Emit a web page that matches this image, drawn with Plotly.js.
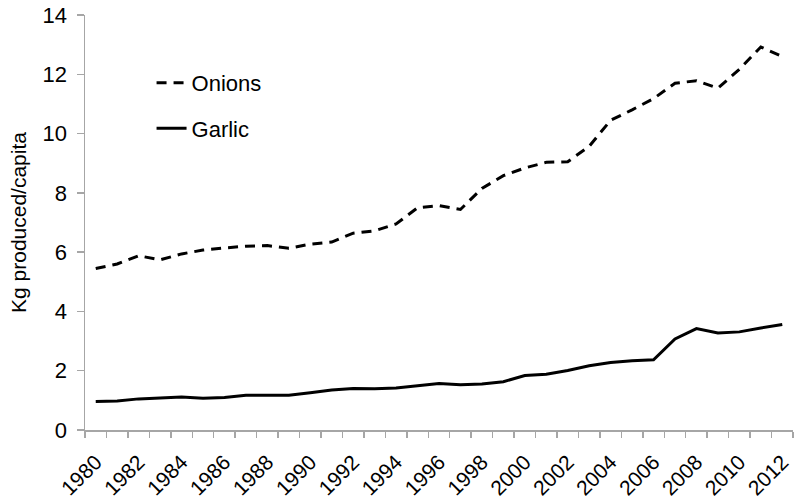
<!DOCTYPE html>
<html>
<head>
<meta charset="utf-8">
<script src="https://cdn.plot.ly/plotly-3.0.1.min.js"></script>
<style>html,body{margin:0;padding:0;background:#fff;}#chart{width:800px;height:499px;}</style>
</head>
<body>
<div id="chart"></div>
<script>
const years = [1980,1981,1982,1983,1984,1985,1986,1987,1988,1989,1990,1991,1992,1993,1994,1995,1996,1997,1998,1999,2000,2001,2002,2003,2004,2005,2006,2007,2008,2009,2010,2011,2012];
const onions = [5.45,5.60,5.88,5.74,5.94,6.07,6.14,6.20,6.22,6.13,6.27,6.34,6.64,6.72,6.95,7.50,7.57,7.44,8.15,8.58,8.84,9.03,9.05,9.57,10.45,10.80,11.18,11.70,11.78,11.53,12.17,12.92,12.60];
const garlic = [0.96,0.98,1.05,1.09,1.11,1.07,1.10,1.17,1.16,1.17,1.26,1.35,1.40,1.39,1.42,1.50,1.57,1.53,1.55,1.63,1.84,1.88,2.01,2.17,2.28,2.34,2.37,3.07,3.42,3.27,3.31,3.44,3.56];
const tickYears = [1980,1982,1984,1986,1988,1990,1992,1994,1996,1998,2000,2002,2004,2006,2008,2010,2012];
const yTicks = [0,2,4,6,8,10,12,14];

const font = 'Liberation Sans, Arial, sans-serif';
const traces = [
  {x: years, y: onions, name: 'Onions', legendgroup: 'a', mode: 'lines', type: 'scatter',
   line: {color: '#000', width: 3, dash: '10px,7px'}},
  {x: years, y: garlic, name: 'Garlic', legendgroup: 'b', mode: 'lines', type: 'scatter',
   line: {color: '#000', width: 3}}
];
const layout = {
  width: 800, height: 499,
  margin: {l: 85, r: 7, t: 15, b: 69},
  paper_bgcolor: '#fff', plot_bgcolor: '#fff',
  font: {family: font, color: '#000', size: 22},
  showlegend: true,
  legend: {x: 0.094, y: 0.887, xanchor: 'left', yanchor: 'top', bgcolor: 'rgba(0,0,0,0)',
           font: {family: font, size: 22, color: '#000'}, traceorder: 'grouped', tracegroupgap: 14, itemwidth: 30},
  xaxis: {
    range: [1979.5, 2012.5], tickmode: 'array', tickvals: tickYears, ticktext: tickYears.map(String),
    tickangle: -45, ticks: '', showgrid: false, zeroline: false, ticklabelstandoff: 10,
    showline: true, linecolor: '#a6a6a6', linewidth: 1.5,
    tickfont: {family: font, size: 21, color: '#000'},
    minor: {tick0: 1979.5, dtick: 1, ticks: 'outside', ticklen: 6, tickcolor: '#a6a6a6', tickwidth: 1.5, showgrid: false}
  },
  yaxis: {
    range: [0, 14], tickmode: 'array', tickvals: yTicks, ticks: 'outside', ticklen: 7,
    tickcolor: '#a6a6a6', tickwidth: 1.5, showgrid: false, zeroline: false, ticklabelstandoff: 5,
    showline: true, linecolor: '#a6a6a6', linewidth: 1.5,
    tickfont: {family: font, size: 22, color: '#000'},
    title: {text: 'Kg produced/capita', font: {family: font, size: 21, color: '#000'}, standoff: 10}
  }
};
Plotly.newPlot('chart', traces, layout, {staticPlot: true, displayModeBar: false});
</script>
</body>
</html>
